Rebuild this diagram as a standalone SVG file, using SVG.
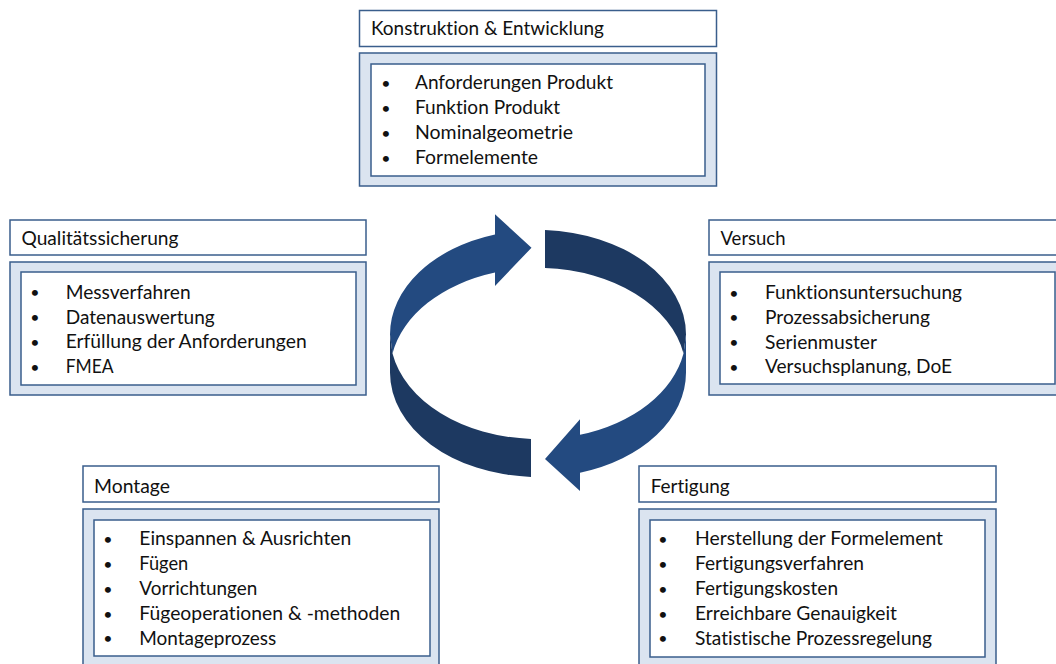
<svg xmlns="http://www.w3.org/2000/svg" width="1056" height="664" viewBox="0 0 1056 664">
  <style>
    .title { fill: #ffffff; stroke: #3a5e8c; stroke-width: 1.5; }
    .body { fill: #dbe4f0; stroke: #3a5e8c; stroke-width: 1.5; }
    .inner { fill: #ffffff; stroke: #3a5e8c; stroke-width: 1.5; }
    text { font-family: Lato, "Open Sans", "Liberation Sans", sans-serif; font-size: 18.5px; fill: #111111; font-variant-ligatures: none; }
    .bul { text-anchor: middle; font-size: 16px; }
    .light { fill: #234a80; }
    .dark { fill: #1d3961; }
  </style>

  <!-- cycle arrows: a tilted ribbon, split into four faces -->
  <g id="connectors">
    <!-- upper left, arrow pointing right -->
    <path class="light" d="M390 334.5 A148 104.5 0 0 1 495 234.5 L495 214.3 L531.5 247.7 L495 286 L495 272.5 A148 104.5 0 0 0 392.5 353.5 Z"/>
    <!-- upper right -->
    <path class="dark" d="M545 230.1 A148 104.5 0 0 1 686 334.5 L683.5 353.5 A148 104.5 0 0 0 545 268.1 Z"/>
    <!-- lower right, arrow pointing left -->
    <path class="light" d="M686 334.5 L686 372.5 A148 104.5 0 0 1 580 472.7 L580 491 L545 459 L580 419.3 L580 434.7 A148 104.5 0 0 0 683.5 353.5 Z"/>
    <!-- lower left -->
    <path class="dark" d="M390 334.5 L390 372.5 A148 104.5 0 0 0 531 476.9 L531 438.9 A148 104.5 0 0 1 392.5 353.5 Z"/>
  </g>

  <g id="konstruktion">
    <rect class="title" x="359.5" y="10.5" width="357" height="36"/>
    <rect class="body" x="359.5" y="53" width="357" height="133"/>
    <rect class="inner" x="371" y="64" width="334" height="112"/>
    <text x="371" y="35" textLength="233" lengthAdjust="spacingAndGlyphs">Konstruktion &amp; Entwicklung</text>
    <text class="bul" x="386" y="88.5">•</text>
    <text class="bul" x="386" y="113.5">•</text>
    <text class="bul" x="386" y="138.5">•</text>
    <text class="bul" x="386" y="163.5">•</text>
    <text x="415" y="89" textLength="198" lengthAdjust="spacingAndGlyphs">Anforderungen Produkt</text>
    <text x="415" y="114" textLength="145" lengthAdjust="spacingAndGlyphs">Funktion Produkt</text>
    <text x="415" y="139" textLength="158" lengthAdjust="spacingAndGlyphs">Nominalgeometrie</text>
    <text x="415" y="164" textLength="123" lengthAdjust="spacingAndGlyphs">Formelemente</text>
  </g>

  <g id="qualitaetssicherung">
    <rect class="title" x="10" y="220" width="356" height="35"/>
    <rect class="body" x="10" y="262" width="356" height="133"/>
    <rect class="inner" x="21" y="272" width="335" height="113"/>
    <text x="21.5" y="245" textLength="157" lengthAdjust="spacingAndGlyphs">Qualitätssicherung</text>
    <text class="bul" x="35" y="298.2">•</text>
    <text class="bul" x="35" y="323">•</text>
    <text class="bul" x="35" y="347.7">•</text>
    <text class="bul" x="35" y="372.5">•</text>
    <text x="65.7" y="298.7" textLength="125" lengthAdjust="spacingAndGlyphs">Messverfahren</text>
    <text x="65.7" y="323.5" textLength="149" lengthAdjust="spacingAndGlyphs">Datenauswertung</text>
    <text x="65.7" y="348.2" textLength="241" lengthAdjust="spacingAndGlyphs">Erfüllung der Anforderungen</text>
    <text x="65.7" y="373" textLength="48" lengthAdjust="spacingAndGlyphs">FMEA</text>
  </g>

  <g id="versuch">
    <rect class="title" x="709" y="220" width="357" height="35"/>
    <rect class="body" x="709" y="262" width="357" height="133"/>
    <rect class="inner" x="720" y="272" width="335" height="112"/>
    <text x="720.5" y="245" textLength="65" lengthAdjust="spacingAndGlyphs">Versuch</text>
    <text class="bul" x="734" y="298.5">•</text>
    <text class="bul" x="734" y="323.3">•</text>
    <text class="bul" x="734" y="348">•</text>
    <text class="bul" x="734" y="372.8">•</text>
    <text x="765" y="299" textLength="197" lengthAdjust="spacingAndGlyphs">Funktionsuntersuchung</text>
    <text x="765" y="323.8" textLength="165" lengthAdjust="spacingAndGlyphs">Prozessabsicherung</text>
    <text x="765" y="348.5" textLength="112" lengthAdjust="spacingAndGlyphs">Serienmuster</text>
    <text x="765" y="373.3" textLength="187" lengthAdjust="spacingAndGlyphs">Versuchsplanung, DoE</text>
  </g>

  <g id="montage">
    <rect class="title" x="83" y="466" width="356" height="36"/>
    <rect class="body" x="83" y="509" width="356" height="160"/>
    <rect class="inner" x="94" y="520" width="336" height="136"/>
    <text x="94" y="492.5" textLength="76" lengthAdjust="spacingAndGlyphs">Montage</text>
    <text class="bul" x="108" y="544.8">•</text>
    <text class="bul" x="108" y="569.7">•</text>
    <text class="bul" x="108" y="594.6">•</text>
    <text class="bul" x="108" y="619.5">•</text>
    <text class="bul" x="108" y="644.4">•</text>
    <text x="139.3" y="545.3" textLength="212" lengthAdjust="spacingAndGlyphs">Einspannen &amp; Ausrichten</text>
    <text x="139.3" y="570.2" textLength="49" lengthAdjust="spacingAndGlyphs">Fügen</text>
    <text x="139.3" y="595.1" textLength="118" lengthAdjust="spacingAndGlyphs">Vorrichtungen</text>
    <text x="139.3" y="620" textLength="261" lengthAdjust="spacingAndGlyphs">Fügeoperationen &amp; -methoden</text>
    <text x="139.3" y="644.9" textLength="137" lengthAdjust="spacingAndGlyphs">Montageprozess</text>
  </g>

  <g id="fertigung">
    <rect class="title" x="639" y="466" width="357" height="36"/>
    <rect class="body" x="639" y="509" width="357" height="160"/>
    <rect class="inner" x="650" y="520" width="335" height="137"/>
    <text x="650.7" y="493" textLength="79" lengthAdjust="spacingAndGlyphs">Fertigung</text>
    <text class="bul" x="663" y="544.8">•</text>
    <text class="bul" x="663" y="569.7">•</text>
    <text class="bul" x="663" y="594.6">•</text>
    <text class="bul" x="663" y="619.5">•</text>
    <text class="bul" x="663" y="644.4">•</text>
    <text x="695" y="545.3" textLength="248" lengthAdjust="spacingAndGlyphs">Herstellung der Formelement</text>
    <text x="695" y="570.2" textLength="169" lengthAdjust="spacingAndGlyphs">Fertigungsverfahren</text>
    <text x="695" y="595.1" textLength="143" lengthAdjust="spacingAndGlyphs">Fertigungskosten</text>
    <text x="695" y="620" textLength="202" lengthAdjust="spacingAndGlyphs">Erreichbare Genauigkeit</text>
    <text x="695" y="644.9" textLength="237" lengthAdjust="spacingAndGlyphs">Statistische Prozessregelung</text>
  </g>
</svg>
